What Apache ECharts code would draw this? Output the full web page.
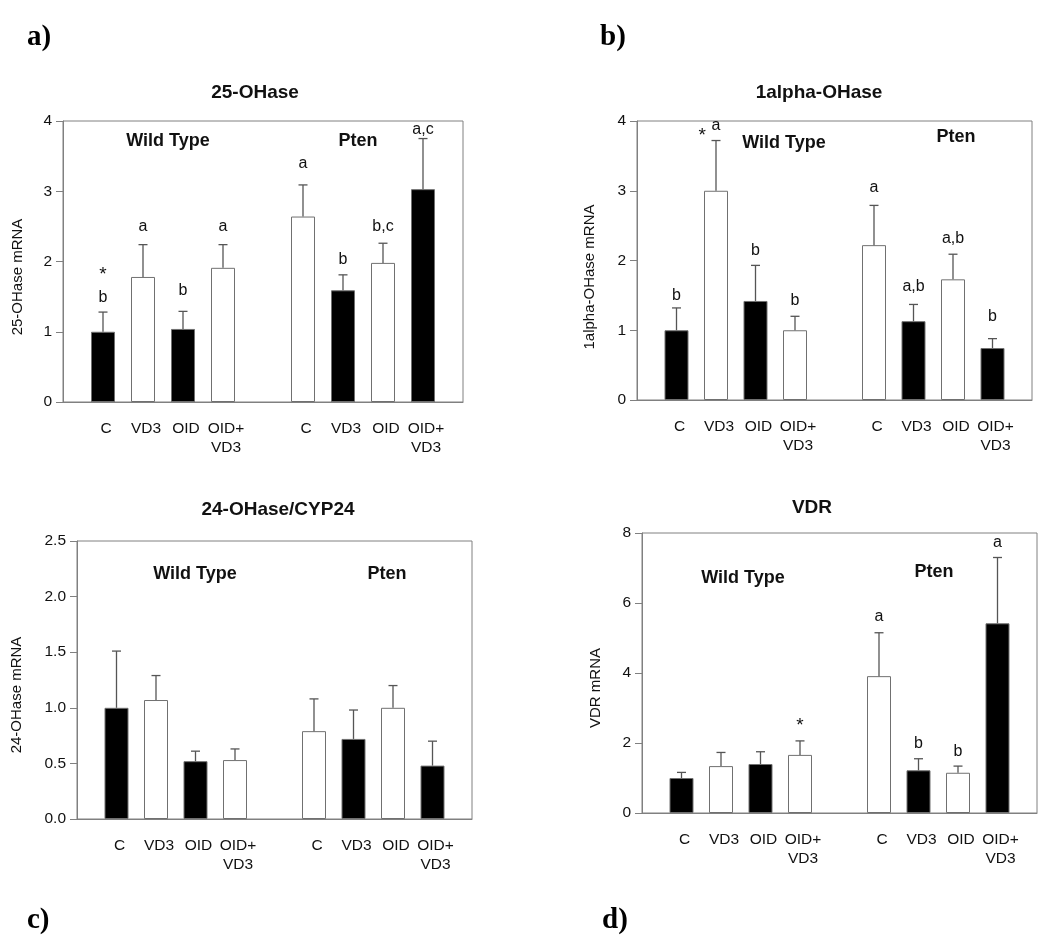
<!DOCTYPE html>
<html>
<head>
<meta charset="utf-8">
<script src="https://cdn.jsdelivr.net/npm/echarts@6/dist/echarts.min.js"></script>
<style>
html,body{margin:0;padding:0;background:#fff;}
#chart{width:1050px;height:946px;}
</style>
</head>
<body>
<div id="chart"></div>
<script>
// ---------- data ----------
const treatments = ['C', 'VD3', 'OID', 'OID+\nVD3'];
const groups = ['Wild Type', 'Pten'];
// bar fill: 1 = black, 0 = white (WT: C,VD3,OID,OID+VD3 ; Pten: C,VD3,OID,OID+VD3)
const blackFill = [1, 0, 1, 0, 0, 1, 0, 1];

// a) 25-OHase
const a_mean = [1.00, 1.78, 1.04, 1.91, 2.64, 1.59, 1.98, 3.03];
const a_sem  = [0.28, 0.46, 0.25, 0.33, 0.45, 0.22, 0.28, 0.72];
const a_letters = ['b', 'a', 'b', 'a', 'a', 'b', 'b,c', 'a,c'];
const a_letterY = [1.49, 2.50, 1.58, 2.50, 3.39, 2.03, 2.50, 3.88];
const a_starBar = [0];
const a_starY = [1.84];

// b) 1alpha-OHase
const b_mean = [1.00, 3.00, 1.42, 1.00, 2.22, 1.13, 1.73, 0.745];
const b_sem  = [0.32, 0.72, 0.51, 0.20, 0.57, 0.24, 0.36, 0.135];
const b_letters = ['b', 'a', 'b', 'b', 'a', 'a,b', 'a,b', 'b'];
const b_letterY = [1.50, 3.94, 2.14, 1.42, 3.05, 1.63, 2.31, 1.20];
const b_starBar = [1];
const b_starY = [3.82];

// c) 24-OHase/CYP24
const c_mean = [1.00, 1.07, 0.52, 0.53, 0.79, 0.72, 1.00, 0.48];
const c_sem  = [0.51, 0.22, 0.09, 0.10, 0.29, 0.26, 0.20, 0.22];
const c_letters = ['', '', '', '', '', '', '', ''];
const c_letterY = [null, null, null, null, null, null, null, null];
const c_starBar = [];
const c_starY = [];

// d) VDR
const d_mean = [1.00, 1.34, 1.40, 1.66, 3.91, 1.22, 1.15, 5.42];
const d_sem  = [0.16, 0.39, 0.35, 0.40, 1.24, 0.33, 0.19, 1.88];
const d_letters = ['', '', '', '', 'a', 'b', 'b', 'a'];
const d_letterY = [null, null, null, null, 5.60, 1.98, 1.76, 7.73];
const d_starBar = [3];
const d_starY = [2.55];

// axis ticks
const a_yAxis = {max: 4, interval: 1};
const b_yAxis = {max: 4, interval: 1};
const c_yAxis = {max: 2.5, interval: 0.5};
const d_yAxis = {max: 8, interval: 2};

const titles = ['25-OHase', '1alpha-OHase', '24-OHase/CYP24', 'VDR'];
const yNames = ['25-OHase mRNA', '1alpha-OHase mRNA', '24-OHase mRNA', 'VDR mRNA'];
const panelLetters = ['a)', 'b)', 'c)', 'd)'];

// ---------- layout / style ----------
const SANS = "'Liberation Sans', Arial, Helvetica, sans-serif";
const SERIF = "'Liberation Serif', 'Times New Roman', serif";
const GRAY = '#808080';
const TEXT = '#111';

// category slots: '', WT x4, '', Pten x4, ''
const slotCats = [''].concat(treatments, [''], treatments, ['']);
function slotOf(i) { return i < 4 ? i + 1 : i + 2; }

const panels = [
  {mean: a_mean, sem: a_sem, letters: a_letters, letterY: a_letterY, starBar: a_starBar, starY: a_starY, y: a_yAxis,
   grid: {left: 63, top: 121, width: 400, height: 281}, dec: 0, starBeside: false,
   title: [255, 93], groupPos: [[168, 141], [358, 141]], yName: [18, 277], letter: [27, 38]},
  {mean: b_mean, sem: b_sem, letters: b_letters, letterY: b_letterY, starBar: b_starBar, starY: b_starY, y: b_yAxis,
   grid: {left: 637, top: 121, width: 395, height: 279}, dec: 0, starBeside: true,
   title: [819, 93], groupPos: [[784, 143], [956, 137]], yName: [590, 277], letter: [600, 38]},
  {mean: c_mean, sem: c_sem, letters: c_letters, letterY: c_letterY, starBar: c_starBar, starY: c_starY, y: c_yAxis,
   grid: {left: 77, top: 541, width: 395, height: 278}, dec: 1, starBeside: false,
   title: [278, 510], groupPos: [[195, 574], [387, 574]], yName: [17, 695], letter: [27, 921]},
  {mean: d_mean, sem: d_sem, letters: d_letters, letterY: d_letterY, starBar: d_starBar, starY: d_starY, y: d_yAxis,
   grid: {left: 642, top: 533, width: 395, height: 280}, dec: 0, starBeside: false,
   title: [812, 508], groupPos: [[743, 578], [934, 572]], yName: [596, 688], letter: [602, 921]}
];

const option = {
  backgroundColor: '#fff',
  animation: false,
  grid: [], xAxis: [], yAxis: [], series: [], graphic: []
};

panels.forEach((p, k) => {
  option.grid.push(Object.assign({show: true, borderColor: GRAY, borderWidth: 1, backgroundColor: 'transparent'}, p.grid));
  option.xAxis.push({
    gridIndex: k, type: 'category', data: slotCats, boundaryGap: false,
    axisLine: {show: true, lineStyle: {color: GRAY, width: 1}},
    axisTick: {show: false},
    axisLabel: {interval: 0, fontFamily: SANS, fontSize: 15.5, color: TEXT, lineHeight: 19, margin: 17,
                padding: [0, 0, 0, 6]},
    splitLine: {show: false}
  });
  option.yAxis.push({
    gridIndex: k, type: 'value', min: 0, max: p.y.max, interval: p.y.interval,
    axisLine: {show: true, lineStyle: {color: GRAY, width: 1}},
    axisTick: {show: true, inside: false, length: 7, lineStyle: {color: GRAY}},
    axisLabel: {fontFamily: SANS, fontSize: 15.5, color: TEXT, margin: 11,
                formatter: v => v.toFixed(p.dec)},
    splitLine: {show: false}
  });

  // bars
  const barData = slotCats.map(() => null);
  p.mean.forEach((v, i) => {
    barData[slotOf(i)] = {
      value: v,
      itemStyle: {color: blackFill[i] ? '#000' : '#fff', borderColor: '#707070', borderWidth: 1}
    };
  });
  option.series.push({
    type: 'bar', xAxisIndex: k, yAxisIndex: k, data: barData, barWidth: 24, z: 2
  });

  // error bars (upper only)
  const errData = p.mean.map((v, i) => [slotOf(i), v, v + p.sem[i]]);
  option.series.push({
    type: 'custom', xAxisIndex: k, yAxisIndex: k, data: errData, z: 3, clip: false,
    encode: {x: 0, y: [1, 2]},
    renderItem: (params, api) => {
      const c0 = api.coord([api.value(0), api.value(1)]);
      const c1 = api.coord([api.value(0), api.value(2)]);
      const st = {stroke: '#555', lineWidth: 1.3};
      return {type: 'group', children: [
        {type: 'line', shape: {x1: c0[0], y1: c0[1], x2: c1[0], y2: c1[1]}, style: st},
        {type: 'line', shape: {x1: c1[0] - 4.5, y1: c1[1], x2: c1[0] + 4.5, y2: c1[1]}, style: st}
      ]};
    }
  });

  // significance letters
  const ann = [];
  p.letters.forEach((t, i) => { if (t) ann.push({x: slotOf(i), y: p.letterY[i], t: t, star: false}); });
  p.starBar.forEach((b, j) => ann.push({x: slotOf(b), y: p.starY[j], t: '*', star: true}));
  option.series.push({
    type: 'custom', xAxisIndex: k, yAxisIndex: k, z: 4, clip: false,
    data: ann.map(a => [a.x, a.y]),
    encode: {x: 0, y: 1},
    renderItem: (params, api) => {
      const a = ann[params.dataIndex];
      const c = api.coord([a.x, a.y]);
      const beside = a.star && p.starBeside;
      return {type: 'text', x: beside ? c[0] - 10 : c[0], y: a.star ? c[1] + 2 : c[1], style: {
        text: a.t, fill: TEXT, font: (a.star ? '19px ' : '16px ') + SANS,
        textAlign: beside ? 'right' : 'center', textVerticalAlign: 'middle'
      }};
    }
  });

  // texts
  option.graphic.push({type: 'text', x: p.title[0], y: p.title[1], style: {
    text: titles[k], fill: TEXT, font: 'bold 19px ' + SANS, textAlign: 'center', textVerticalAlign: 'middle'}});
  groups.forEach((g, j) => option.graphic.push({type: 'text', x: p.groupPos[j][0], y: p.groupPos[j][1], style: {
    text: g, fill: TEXT, font: 'bold 18px ' + SANS, textAlign: 'center', textVerticalAlign: 'middle'}}));
  option.graphic.push({type: 'text', x: p.yName[0], y: p.yName[1], rotation: Math.PI / 2, style: {
    text: yNames[k], fill: TEXT, font: '15px ' + SANS, textAlign: 'center', textVerticalAlign: 'middle'}});
  option.graphic.push({type: 'text', x: p.letter[0], y: p.letter[1], style: {
    text: panelLetters[k], fill: '#000', font: 'bold 29px ' + SERIF, textAlign: 'left', textVerticalAlign: 'middle'}});
});

const chart = echarts.init(document.getElementById('chart'), null, {renderer: 'canvas'});
chart.setOption(option);
</script>
</body>
</html>
